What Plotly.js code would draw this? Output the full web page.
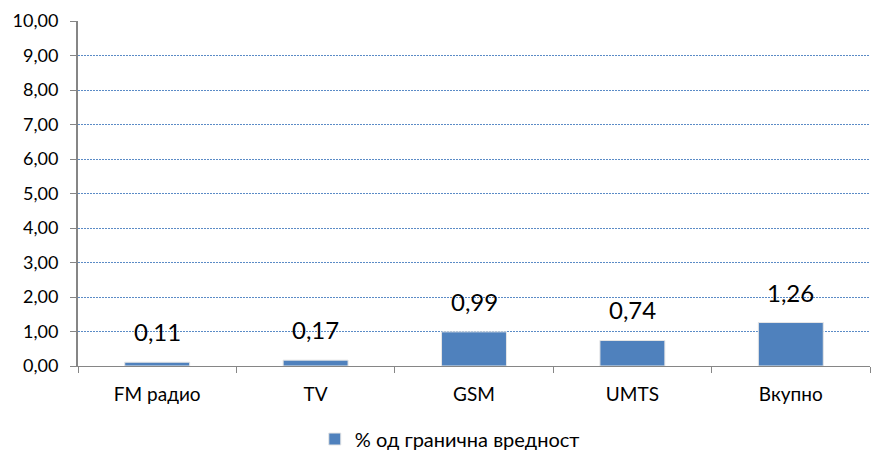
<!DOCTYPE html>
<html><head><meta charset="utf-8">
<script src="https://cdn.plot.ly/plotly-3.0.1.min.js"></script>
<style>html,body{margin:0;padding:0;background:#fff}#c{width:872px;height:454px}</style>
</head><body><div id="c"></div>
<script>
const categories = ["FM радио", "TV", "GSM", "UMTS", "Вкупно"];
const values = [0.11, 0.17, 0.99, 0.74, 1.26];
const valueLabels = ["0,11", "0,17", "0,99", "0,74", "1,26"];
const tickVals = [0,1,2,3,4,5,6,7,8,9,10];
const tickText = ["0,00","1,00","2,00","3,00","4,00","5,00","6,00","7,00","8,00","9,00","10,00"];
const seriesName = "% од гранична вредност";

const font = "Lato, 'Open Sans', sans-serif";
const trace = {
  type: "bar", x: categories, y: values, name: seriesName,
  marker: {color: "#4F81BD", line: {color: "#e6e6e6", width: 1}},
  width: 0.41, hoverinfo: "none"
};
const annotations = categories.map((c, i) => ({
  x: c, y: values[i], xref: "x", yref: "y", text: valueLabels[i],
  showarrow: false, yanchor: "bottom", yshift: 14,
  font: {family: font, size: 24, color: "#000"}
}));
const layout = {
  width: 872, height: 454,
  margin: {l: 78, r: 2, t: 21, b: 88},
  paper_bgcolor: "#fff", plot_bgcolor: "#fff",
  showlegend: true,
  legend: {orientation: "h", xref: "container", yref: "container",
    x: 0.361, xanchor: "left", y: 0.033, yanchor: "middle",
    font: {family: font, size: 20, color: "#000"}, itemwidth: 30},
  xaxis: {type: "category", tickson: "boundaries", ticks: "outside", ticklen: 6,
    tickcolor: "#868686", showline: true, linecolor: "#868686", linewidth: 1,
    showgrid: false, tickfont: {family: font, size: 19, color: "#000"},
    ticklabelstandoff: 11, fixedrange: true},
  yaxis: {range: [0, 10], tickvals: tickVals, ticktext: tickText, ticks: "outside",
    ticklen: 6, tickcolor: "#868686", showline: true, linecolor: "#868686", linewidth: 2,
    showgrid: true, gridcolor: "#5B8BC6", griddash: "2px,1px", gridwidth: 1,
    zeroline: false, tickfont: {family: font, size: 18, color: "#000"},
    ticklabelstandoff: 8, fixedrange: true},
  annotations: annotations,
  bargap: 0.59
};
Plotly.newPlot("c", [trace], layout, {displayModeBar: false, staticPlot: true});
</script></body></html>
